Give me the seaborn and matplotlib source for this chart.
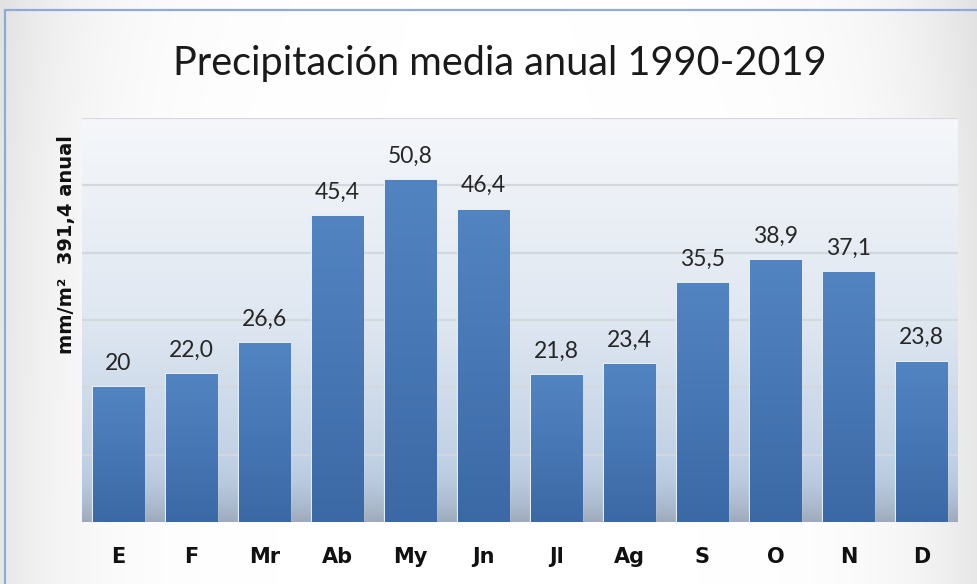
import numpy as np
import pandas as pd
import matplotlib
matplotlib.use("Agg")
import matplotlib.pyplot as plt
import seaborn as sns
from matplotlib.colors import LinearSegmentedColormap
from matplotlib.patches import Rectangle

# Monthly mean precipitation (mm/m²), 1990-2019
months = ["E", "F", "Mr", "Ab", "My", "Jn", "Jl", "Ag", "S", "O", "N", "D"]
rain = [20.0, 22.0, 26.6, 45.4, 50.8, 46.4, 21.8, 23.4, 35.5, 38.9, 37.1, 23.8]
rain_labels = ["20", "22,0", "26,6", "45,4", "50,8", "46,4", "21,8", "23,4", "35,5", "38,9", "37,1", "23,8"]
title = "Precipitación media anual 1990-2019"
ylabel = "mm/m²  391,4 anual"

sns.set_theme(style="white")
plt.rcParams["font.family"] = ["Lato", "DejaVu Sans"]
bold_family = ["DejaVu Sans"]

df = pd.DataFrame({"mes": months, "mm": rain})

fig = plt.figure(figsize=(9.77, 5.84), dpi=100)

# soft vignette behind everything
bg_ax = fig.add_axes([0, 0, 1, 1], zorder=-10)
yy, xx = np.mgrid[0:1:200j, 0:1:300j]
vign = np.clip(np.maximum(np.abs(xx - 0.5) * 2, 0) ** 6 * 0.6 + ((1 - yy) ** 3) * 0.15 * (np.abs(xx - 0.5) * 2) ** 2, 0, 1)
vcmap = LinearSegmentedColormap.from_list("v", ["#ffffff", "#d8d8d8"])
bg_ax.imshow(vign, cmap=vcmap, vmin=0, vmax=1, extent=[0, 1, 0, 1], aspect="auto", origin="upper")
bg_ax.set_axis_off()

# outer frame
fig.patches.append(Rectangle((5 / 977, -0.05), 1.2, (574 / 584) + 0.05, transform=fig.transFigure,
                             fill=False, edgecolor="#8eaad6", linewidth=1.6, zorder=5))

ax = fig.add_axes([82 / 977, 62 / 584, 876 / 977, 404 / 584])
ax.set_facecolor("none")

sns.barplot(data=df, x="mes", y="mm", ax=ax, color="#4a7bbb", width=0.71,
            edgecolor="#e4eef9", linewidth=1.6, zorder=3)

ax.set_xlim(-0.5, len(months) - 0.5)
ax.set_ylim(0, 60)

# plot-area gradient
grad = np.linspace(0, 1, 256).reshape(-1, 1)
pcmap = LinearSegmentedColormap.from_list("p", ["#f5f7fa", "#dfe7f1", "#b4c7df"])
ax.imshow(grad, cmap=pcmap, extent=[-0.5, len(months) - 0.5, 0, 60], aspect="auto",
          origin="upper", zorder=0)

# grey reflection near the floor
shade = np.linspace(0, 1, 128).reshape(-1, 1) ** 2
scmap = LinearSegmentedColormap.from_list("s", [(0.55, 0.58, 0.62, 0.0), (0.55, 0.58, 0.62, 0.55)])
ax.imshow(shade, cmap=scmap, extent=[-0.5, len(months) - 0.5, 0, 9], aspect="auto",
          origin="upper", zorder=1)

# grid lines
for g in range(10, 60, 10):
    ax.axhline(g, color="#d3d8df", linewidth=1.6, zorder=2)
ax.axhline(60, color="#d7d9dc", linewidth=1.6, zorder=2)

# gradient fill inside each bar
bcmap = LinearSegmentedColormap.from_list("b", ["#5384c2", "#3b69a6"])
for patch in ax.patches:
    x0, y0 = patch.get_x(), patch.get_y()
    w, h = patch.get_width(), patch.get_height()
    im = ax.imshow(grad, cmap=bcmap, extent=[x0, x0 + w, y0, y0 + h], aspect="auto",
                   origin="upper", zorder=3.5)
    im.set_clip_path(patch)

# value labels
for i, (v, lab) in enumerate(zip(rain, rain_labels)):
    ax.text(i, v + 2.0, lab, ha="center", va="bottom", fontsize=16.5, color="#262626", zorder=6)

for s in ax.spines.values():
    s.set_visible(False)
ax.set_yticks([])
ax.tick_params(axis="x", length=0, pad=18)
for t in ax.get_xticklabels():
    t.set_fontweight("bold")
    t.set_fontsize(15)
    t.set_family(bold_family)
    t.set_color("#111111")
ax.set_xlabel("")
ax.set_ylabel(ylabel, fontsize=14, fontweight="bold", color="#111111", family=bold_family)
ax.yaxis.set_label_coords(-0.007, 0.686)

fig.text(500 / 977, 520 / 584, title, ha="center", va="center", fontsize=28.5, color="#1a1a1a")

fig.savefig("out.png", dpi=100)
